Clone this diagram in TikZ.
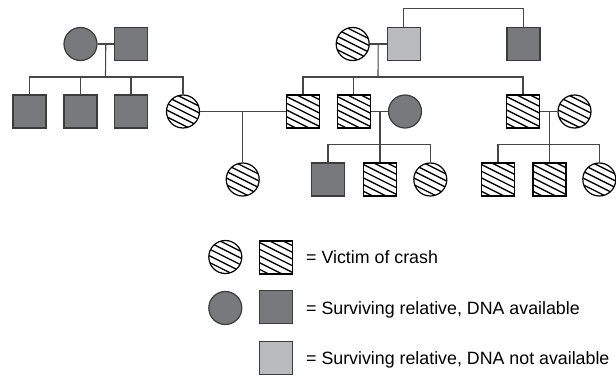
\documentclass[tikz,border=0pt]{standalone}
\usepackage{fontspec}
\newfontfamily\lsans{Liberation Sans}
\usetikzlibrary{calc}
\definecolor{darkfill}{RGB}{120,121,125}
\definecolor{lightfill}{RGB}{186,187,189}
\definecolor{edgecol}{RGB}{60,60,60}
\definecolor{conncol}{RGB}{70,70,70}
\tikzset{
  person/.style={draw=edgecol, line width=1.2pt, inner sep=0pt, minimum size=33},
  sq/.style={person, rectangle},
  ci/.style={person, circle},
  dark/.style={fill=darkfill},
  light/.style={fill=lightfill},
  hatch/.style={fill=white, draw=black, path picture={
      \foreach \k in {-6,...,6}{
        \draw[black, line width=1.3pt]
          ([shift={(-40pt,\k*6.7pt+20pt)}]path picture bounding box.center) -- ++(80pt,-40pt);
      }}},
  conn/.style={draw=conncol, line width=1.1pt},
  legtext/.style={anchor=base west, inner sep=0pt, font=\lsans\fontsize{17.8}{20}\selectfont, text=black}
}
\begin{document}
\begin{tikzpicture}[x=1pt,y=-1pt]
\path[use as bounding box] (0,0) rectangle (616,383);
% generation 1
\node[ci,dark] (A1) at (80.5,44) {};
\node[sq,dark] (A2) at (131,44) {};
\node[ci,hatch] (B1) at (352.7,44) {};
\node[sq,light] (B2) at (403.7,44) {};
\node[sq,dark] (B3) at (523.5,44) {};
% generation 2
\node[sq,dark] (C1) at (29.5,111.5) {};
\node[sq,dark] (C2) at (80.5,111.5) {};
\node[sq,dark] (C3) at (131,111.5) {};
\node[ci,hatch] (C4) at (183,111.5) {};
\node[sq,hatch] (D1) at (303,111.5) {};
\node[sq,hatch] (D2) at (353.7,111.5) {};
\node[ci,dark] (D3) at (405,111.5) {};
\node[sq,hatch] (D4) at (523,111.5) {};
\node[ci,hatch] (D5) at (574.5,111.5) {};
% generation 3
\node[ci,hatch] (E1) at (242.7,179.5) {};
\node[sq,dark] (F1) at (328,179.5) {};
\node[sq,hatch] (F2) at (380,179.5) {};
\node[ci,hatch] (F3) at (430.3,179.5) {};
\node[sq,hatch] (G1) at (498,179.5) {};
\node[sq,hatch] (G2) at (549.5,179.5) {};
\node[ci,hatch] (G3) at (599.3,179.5) {};
% coordinates
\coordinate (sA) at (105.5,77);
\coordinate (sB) at (378,77);
\coordinate (sF) at (380,144.3);
\coordinate (sG) at (549.5,144.3);
% family A
\draw[conn] (A1) -- (A2);
\draw[conn] ($(A1.east)!.5!(A2.west)$) -- (sA);
\draw[conn] (C1.north) -- (C1 |- sA) -- (C4 |- sA) -- (C4.north);
\draw[conn] (C2.north) -- (C2 |- sA);
\draw[conn] (C3.north) -- (C3 |- sA);
% family B
\draw[conn] (B2.north) -- ++(0,-18.5) -| (B3.north);
\draw[conn] (B1) -- (B2);
\draw[conn] ($(B1.east)!.5!(B2.west)$) -- (sB);
\draw[conn] (D1.north) -- (D1 |- sB) -- (D4 |- sB) -- (D4.north);
\draw[conn] (D2.north) -- (D2 |- sB);
% couple C4-D1
\draw[conn] (C4) -- (D1);
\draw[conn] (E1.north) -- (E1 |- C4);
% couple D2-D3
\draw[conn] (D2) -- (D3);
\draw[conn] (F2.north) -- (F2 |- D2);
\draw[conn] (F1.north) -- (F1 |- sF) -- (F3 |- sF) -- (F3.north);
% couple D4-D5
\draw[conn] (D4) -- (D5);
\draw[conn] (G2.north) -- (G2 |- D4);
\draw[conn] (G1.north) -- (G1 |- sG) -- (G3 |- sG) -- (G3.north);
% legend
\node[ci,hatch] (L1) at (225.3,257) {};
\node[sq,hatch] (L2) at (276,257.5) {};
\node[ci,dark] (L3) at (225.3,308) {};
\node[sq,dark] (L4) at (276,307) {};
\node[sq,light] (L5) at (276,358) {};
\node[legtext] (T1) at (306,263.5) {= Victim of crash};
\node[legtext] (T2) at (306,314) {= Surviving relative, DNA available};
\node[legtext] (T3) at (306,364) {= Surviving relative, DNA not available};
\end{tikzpicture}
\end{document}
